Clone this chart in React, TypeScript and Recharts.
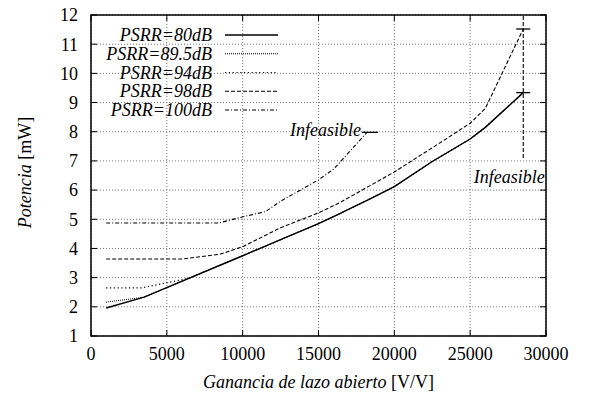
import React from 'react';
import {
  LineChart,
  Line,
  XAxis,
  YAxis,
  CartesianGrid,
  ReferenceLine,
  ReferenceArea,
  ReferenceDot,
} from 'recharts';

const FONT = '"Liberation Serif", "Times New Roman", Times, serif';

const xTicks = [0, 5000, 10000, 15000, 20000, 25000, 30000];
const yTicks = [1, 2, 3, 4, 5, 6, 7, 8, 9, 10, 11, 12];

// Open-loop gain [V/V] and power [mW] for each PSRR target
const gain80 = [1000, 3500, 10000, 12500, 15000, 16400, 18400, 20000, 22500, 25000, 26000, 28500];
const power80 = [1.96, 2.33, 3.75, 4.3, 4.85, 5.19, 5.7, 6.12, 6.98, 7.75, 8.15, 9.34];

const gain89 = [1000, 3500, 10000, 12500, 15000, 16400, 18400, 20000, 22500, 25000, 26000, 28500];
const power89 = [2.16, 2.33, 3.75, 4.3, 4.85, 5.19, 5.7, 6.12, 6.98, 7.75, 8.15, 9.34];

const gain94 = [1000, 3350, 6400, 10000, 12500, 15000, 16400, 18400, 20000, 22500, 25000, 26000, 28500];
const power94 = [2.65, 2.65, 2.97, 3.75, 4.3, 4.85, 5.19, 5.7, 6.12, 6.98, 7.75, 8.15, 9.34];

const gain98 = [1000, 6000, 8500, 10000, 12500, 15000, 16400, 20000, 22800, 25000, 26000, 28500];
const power98 = [3.64, 3.64, 3.8, 4.06, 4.71, 5.22, 5.57, 6.62, 7.55, 8.29, 8.8, 11.52];

const gain100 = [1000, 8400, 9900, 11500, 12500, 13700, 15000, 16000, 18200];
const power100 = [4.87, 4.87, 5.07, 5.26, 5.62, 5.97, 6.35, 6.72, 7.98];

// Gain limit beyond which the design is infeasible
const limitGain = 28500;
const limitPower = [7.1, 12];

const toPoints = (xs: number[], ys: number[]) => xs.map((x, i) => ({ x, y: ys[i] }));

type Series = {
  name: string;
  data: { x: number; y: number }[];
  dash?: string;
  width: number;
  cap?: [number, number];
  tag?: boolean;
};

// legend order
const series: Series[] = [
  { name: 'PSRR=80dB', data: toPoints(gain80, power80), width: 1.4, cap: [7, 7] },
  { name: 'PSRR=89.5dB', data: toPoints(gain89, power89), dash: '1 1', width: 1 },
  { name: 'PSRR=94dB', data: toPoints(gain94, power94), dash: '1.2 2.6', width: 1.1 },
  { name: 'PSRR=98dB', data: toPoints(gain98, power98), dash: '4 2', width: 1.1, cap: [7, 7] },
  { name: 'PSRR=100dB', data: toPoints(gain100, power100), dash: '4 2 1 2', width: 1.1, cap: [5, 11], tag: true },
];

const endCap = (s: Series) => (p: any) => {
  const last = s.data.length - 1;
  if (!s.cap || p.index !== last) return <g key={`d-${p.index}`} />;
  return (
    <g key={`d-${p.index}`}>
      <line x1={p.cx - s.cap[0]} x2={p.cx + s.cap[1]} y1={p.cy} y2={p.cy} stroke="#000" strokeWidth={1.3} />
      {s.tag && (
        <text x={p.cx - 6} y={p.cy + 4} textAnchor="end" fontFamily={FONT} fontSize={18} fontStyle="italic" fill="#000">
          Infeasible
        </text>
      )}
    </g>
  );
};

// Dotted grid with short inward tick marks on both ends
const gridRow = (p: any) => (
  <g key={`h-${p.index}`}>
    <line x1={p.x1} y1={p.y1} x2={p.x2} y2={p.y2} stroke="#777" strokeDasharray="1 2" />
    <line x1={p.x1} y1={p.y1} x2={p.x1 + 6} y2={p.y1} stroke="#000" />
    <line x1={p.x2 - 6} y1={p.y1} x2={p.x2} y2={p.y1} stroke="#000" />
  </g>
);

const gridCol = (p: any) => (
  <g key={`v-${p.index}`}>
    <line x1={p.x1} y1={p.y1} x2={p.x2} y2={p.y2} stroke="#777" strokeDasharray="1 2" />
    <line x1={p.x1} y1={p.y1} x2={p.x1} y2={p.y1 + 6} stroke="#000" />
    <line x1={p.x1} y1={p.y2 - 6} x2={p.x1} y2={p.y2} stroke="#000" />
  </g>
);

const XTitle = (props: any) => {
  const vb = props.viewBox || {};
  return (
    <text x={vb.x + vb.width / 2} y={vb.y + 52} textAnchor="middle" fontFamily={FONT} fontSize={18} fill="#000">
      <tspan fontStyle="italic">Ganancia de lazo abierto</tspan>
      <tspan>{' [V/V]'}</tspan>
    </text>
  );
};

const YTitle = (props: any) => {
  const vb = props.viewBox || {};
  const cx = vb.x + 31;
  const cy = vb.y + vb.height / 2 - 3;
  return (
    <text x={cx} y={cy} transform={`rotate(-90 ${cx} ${cy})`} textAnchor="middle" fontFamily={FONT} fontSize={18} fill="#000">
      <tspan fontStyle="italic">Potencia</tspan>
      <tspan>{' [mW]'}</tspan>
    </text>
  );
};

const LimitTag = (p: any) => (
  <text x={p.cx + 21.5} y={p.cy + 25} textAnchor="end" fontFamily={FONT} fontSize={18} fontStyle="italic" fill="#000">
    Infeasible
  </text>
);

const tickStyle = { fill: '#000', fontSize: 18, fontFamily: FONT };

const Key = () => (
  <svg width={592} height={398} style={{ position: 'absolute', left: 0, top: 0, pointerEvents: 'none' }}>
    {series.map((s, i) => {
      const y = 35 + i * 18.75;
      return (
        <g key={s.name}>
          <text x={212} y={y + 6} textAnchor="end" fontFamily={FONT} fontSize={18} fontStyle="italic" fill="#000">
            {s.name}
          </text>
          <line x1={225} x2={278} y1={y} y2={y} stroke="#000" strokeWidth={s.width} strokeDasharray={s.dash} />
        </g>
      );
    })}
  </svg>
);

export default function App() {
  const drawOrder = [...series].reverse();
  return (
    <div style={{ position: 'absolute', left: 0, top: 0, width: 592, height: 398, background: '#fff' }}>
      <LineChart width={592} height={398} margin={{ top: 15, right: 46, bottom: 0, left: 0 }}>
        <CartesianGrid horizontal={gridRow} vertical={gridCol} />
        <XAxis
          type="number"
          dataKey="x"
          domain={[0, 30000]}
          ticks={xTicks}
          interval={0}
          height={62}
          axisLine={false}
          tickLine={false}
          tickSize={0}
          tickMargin={11}
          tick={tickStyle}
          label={<XTitle />}
        />
        <YAxis
          type="number"
          dataKey="y"
          domain={[1, 12]}
          ticks={yTicks}
          interval={0}
          width={91}
          axisLine={false}
          tickLine={false}
          tickSize={0}
          tickMargin={13}
          tick={tickStyle}
          label={<YTitle />}
        />
        <ReferenceArea x1={0} x2={30000} y1={1} y2={12} fill="none" stroke="#000" strokeWidth={1.5} />
        <ReferenceLine
          segment={[
            { x: limitGain, y: limitPower[0] },
            { x: limitGain, y: limitPower[1] },
          ]}
          stroke="#000"
          strokeWidth={1.1}
          strokeDasharray="4 2"
        />
        <ReferenceDot x={limitGain} y={limitPower[0]} r={0} shape={LimitTag} />
        {drawOrder.map((s) => (
          <Line
            key={s.name}
            data={s.data}
            dataKey="y"
            name={s.name}
            type="linear"
            stroke="#000"
            strokeWidth={s.width}
            strokeDasharray={s.dash}
            dot={endCap(s)}
            activeDot={false}
            isAnimationActive={false}
          />
        ))}
      </LineChart>
      <Key />
    </div>
  );
}
